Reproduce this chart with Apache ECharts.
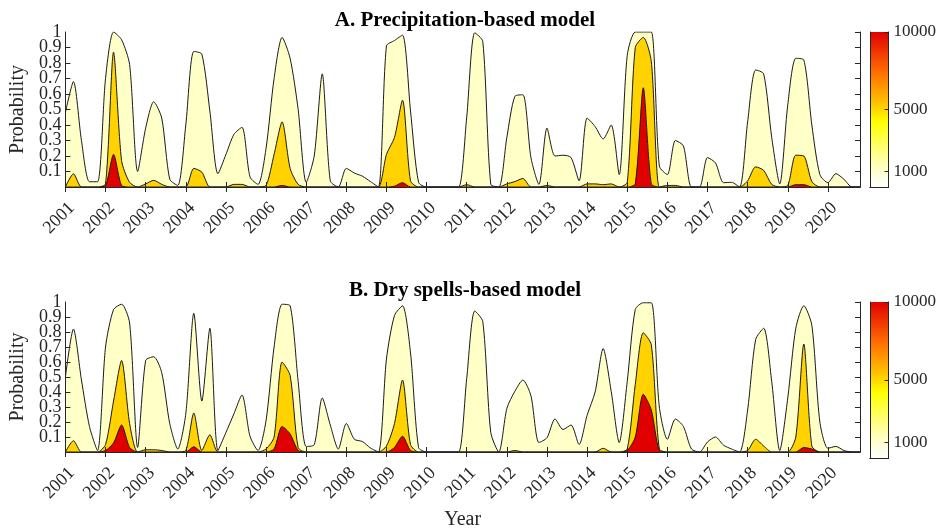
<!DOCTYPE html>
<html>
<head>
<meta charset="utf-8">
<script src="https://cdn.jsdelivr.net/npm/echarts@6/dist/echarts.min.js"></script>
<style>
  html, body { margin: 0; padding: 0; background: #fff; }
  #main { width: 939px; height: 531px; }
</style>
</head>
<body>
<div id="main"></div>
<script>
    // x steps: 5 points per year, 2001.0 .. 2020.8
    var years = [2001, 2002, 2003, 2004, 2005, 2006, 2007, 2008, 2009, 2010,
                 2011, 2012, 2013, 2014, 2015, 2016, 2017, 2018, 2019, 2020];
    var yearSteps = ['0', '2', '4', '6', '8'];
    var categories = [];
    years.forEach(function (y) {
        yearSteps.forEach(function (s) { categories.push(y + '.' + s); });
    });

    // A. precipitation-based model, probability of loss above 1000 / 5000 / 10000
    var precipLow = [
        0.48, 0.68, 0.30, 0.034, 0.034, 0.70, 1.00, 0.95, 0.79, 0.10,
        0.38, 0.55, 0.445, 0.05, 0.01, 0.40, 0.875, 0.857, 0.49, 0.086,
        0.21, 0.34, 0.385, 0.065, 0.017, 0.25, 0.70, 0.965, 0.83, 0.50,
        0.03, 0.20, 0.73, 0.04, 0, 0.12, 0.09, 0.07, 0.035, 0,
        0.91, 0.945, 0.98, 0.49, 0.03, 0, 0, 0, 0, 0,
        0.45, 0.995, 0.94, 0.017, 0, 0.32, 0.585, 0.595, 0.19, 0.017,
        0.38, 0.20, 0.205, 0.19, 0.04, 0.445, 0.39, 0.31, 0.40, 0.08,
        0.85, 1.00, 1.00, 1.00, 0.135, 0.08, 0.30, 0.265, 0, 0,
        0.19, 0.155, 0.028, 0.03, 0, 0.42, 0.755, 0.73, 0.32, 0.02,
        0.53, 0.83, 0.82, 0.40, 0.08, 0.028, 0.086, 0.05, 0, 0
    ];
    var precipMid = [
        0, 0.085, 0, 0, 0, 0.02, 0.87, 0.17, 0.03, 0,
        0.02, 0.043, 0.017, 0, 0, 0, 0.12, 0.096, 0, 0,
        0, 0.017, 0.017, 0, 0, 0.01, 0.21, 0.42, 0.12, 0.017,
        0, 0, 0, 0, 0, 0, 0, 0, 0, 0,
        0.21, 0.32, 0.56, 0.04, 0, 0, 0, 0, 0, 0,
        0.015, 0, 0, 0, 0, 0.02, 0.035, 0.055, 0, 0,
        0.01, 0, 0, 0, 0, 0.02, 0.02, 0.015, 0.02, 0,
        0.03, 0.90, 0.965, 0.81, 0, 0.01, 0.01, 0, 0, 0,
        0, 0, 0, 0, 0, 0.04, 0.13, 0.107, 0.017, 0,
        0.01, 0.205, 0.20, 0.035, 0, 0, 0, 0, 0, 0
    ];
    var precipHigh = [
        0, 0, 0, 0, 0, 0.01, 0.21, 0.01, 0, 0,
        0, 0, 0, 0, 0, 0, 0, 0, 0, 0,
        0, 0, 0, 0, 0, 0, 0, 0.01, 0, 0,
        0, 0, 0, 0, 0, 0, 0, 0, 0, 0,
        0, 0.005, 0.028, 0, 0, 0, 0, 0, 0, 0,
        0, 0, 0, 0, 0, 0, 0, 0, 0, 0,
        0, 0, 0, 0, 0, 0, 0, 0, 0, 0,
        0, 0.02, 0.64, 0.02, 0, 0, 0, 0, 0, 0,
        0, 0, 0, 0, 0, 0, 0, 0, 0, 0,
        0, 0.015, 0.015, 0, 0, 0, 0, 0, 0, 0
    ];

    // B. dry spells-based model
    var dryLow = [
        0.50, 0.82, 0.48, 0.17, 0.01, 0.70, 0.95, 0.985, 0.86, 0.03,
        0.61, 0.635, 0.53, 0.19, 0.02, 0.255, 0.925, 0.34, 0.825, 0.01,
        0.13, 0.255, 0.38, 0.105, 0.01, 0.21, 0.70, 0.985, 0.975, 0.47,
        0.037, 0.048, 0.36, 0.18, 0.02, 0.19, 0.085, 0.07, 0.027, 0,
        0.62, 0.91, 0.975, 0.66, 0.03, 0, 0, 0, 0, 0,
        0.49, 0.94, 0.87, 0.13, 0, 0.29, 0.405, 0.48, 0.375, 0.063,
        0.095, 0.22, 0.15, 0.18, 0.05, 0.245, 0.40, 0.69, 0.405, 0.063,
        0.47, 0.95, 0.995, 0.995, 0.30, 0.085, 0.22, 0.17, 0.02, 0,
        0.067, 0.10, 0.045, 0.02, 0, 0.28, 0.75, 0.825, 0.47, 0.01,
        0.36, 0.825, 0.975, 0.845, 0.20, 0.025, 0.037, 0.01, 0, 0
    ];
    var dryMid = [
        0, 0.075, 0, 0, 0, 0.05, 0.34, 0.61, 0.19, 0,
        0.015, 0.015, 0.01, 0, 0, 0.01, 0.26, 0.01, 0.115, 0,
        0, 0, 0, 0, 0, 0.02, 0.10, 0.60, 0.51, 0.03,
        0, 0, 0, 0, 0, 0, 0, 0, 0, 0,
        0.04, 0.19, 0.48, 0.05, 0, 0, 0, 0, 0, 0,
        0, 0, 0, 0, 0, 0, 0.01, 0, 0, 0,
        0, 0, 0, 0, 0, 0, 0, 0.025, 0, 0,
        0.02, 0.45, 0.795, 0.715, 0.02, 0, 0, 0, 0, 0,
        0, 0, 0, 0, 0, 0.01, 0.085, 0.04, 0, 0,
        0, 0.10, 0.72, 0.04, 0, 0, 0, 0, 0, 0
    ];
    var dryHigh = [
        0, 0, 0, 0, 0, 0.01, 0.06, 0.18, 0.03, 0,
        0, 0, 0, 0, 0, 0, 0.035, 0, 0, 0,
        0, 0, 0, 0, 0, 0, 0.02, 0.17, 0.12, 0.01,
        0, 0, 0, 0, 0, 0, 0, 0, 0, 0,
        0, 0.03, 0.105, 0.01, 0, 0, 0, 0, 0, 0,
        0, 0, 0, 0, 0, 0, 0, 0, 0, 0,
        0, 0, 0, 0, 0, 0, 0, 0, 0, 0,
        0.01, 0.10, 0.385, 0.28, 0.01, 0, 0, 0, 0, 0,
        0, 0, 0, 0, 0, 0, 0, 0, 0, 0,
        0, 0, 0.03, 0.02, 0, 0, 0, 0, 0, 0
    ];

    var colorbarTicks = [1000, 5000, 10000];
    var colorbarMax = 10000;

    var FONT = 'Liberation Serif';
    var INK = '#262626';
    var myChart = echarts.init(document.getElementById('main'));

    function plotX(grid, top, name) {
        return {
            gridIndex: grid,
            type: 'category',
            data: categories,
            boundaryGap: false,
            position: top ? 'top' : 'bottom',
            z: 10,
            name: name || '',
            nameLocation: 'middle',
            nameGap: 58,
            nameTextStyle: {fontFamily: FONT, fontSize: 20, color: INK},
            axisLine: {lineStyle: {color: INK, width: 1}},
            axisTick: {inside: true, length: 5, interval: 4, lineStyle: {color: INK}},
            axisLabel: {
                show: !top,
                interval: 4,
                rotate: 45,
                margin: 12,
                align: 'right',
                verticalAlign: 'top',
                fontFamily: FONT,
                fontSize: 18,
                color: INK,
                formatter: function (v) { return v.slice(0, 4); }
            },
            splitLine: {show: false}
        };
    }
    function plotY(grid, right) {
        return {
            gridIndex: grid,
            type: 'value',
            min: 0,
            max: 1,
            interval: 0.1,
            position: right ? 'right' : 'left',
            z: 10,
            name: right ? '' : 'Probability',
            nameLocation: 'middle',
            nameGap: 37,
            nameTextStyle: {fontFamily: FONT, fontSize: 20, color: INK},
            axisLine: {show: true, lineStyle: {color: INK, width: 1}},
            axisTick: {show: true, inside: true, length: 5, lineStyle: {color: INK}},
            axisLabel: {
                show: !right,
                showMaxLabel: false,
                margin: 4,
                fontFamily: FONT,
                fontSize: 18,
                color: INK,
                formatter: function (v) { return v === 0 ? '' : String(+(+v).toFixed(1)); }
            },
            splitLine: {show: false}
        };
    }
    // carries only the "1" label at the top of the probability axis
    function plotYTop(grid) {
        return {
            gridIndex: grid, type: 'value', min: 0, max: 1, interval: 1, position: 'left',
            axisLine: {show: false}, axisTick: {show: false}, splitLine: {show: false},
            axisLabel: {
                margin: 4, fontFamily: FONT, fontSize: 18, color: INK,
                formatter: function (v) { return v === 1 ? '1' : ''; }
            }
        };
    }
    function cbX(grid, top) {
        return {
            gridIndex: grid, type: 'category', data: ['cb'], position: top ? 'top' : 'bottom', z: 10,
            axisLine: {lineStyle: {color: INK, width: 1}},
            axisTick: {show: false}, axisLabel: {show: false}, splitLine: {show: false}
        };
    }
    function cbY(grid, right) {
        return {
            gridIndex: grid, type: 'value', min: 0, max: colorbarMax, position: right ? 'right' : 'left', z: 10,
            axisLine: {show: true, lineStyle: {color: INK, width: 1}},
            axisTick: {show: right, inside: true, length: 4, customValues: colorbarTicks, lineStyle: {color: INK}},
            axisLabel: {
                show: right, customValues: colorbarTicks, margin: 5,
                fontFamily: FONT, fontSize: 17, color: INK,
                formatter: function (v) { return String(v); }
            },
            splitLine: {show: false}
        };
    }
    function layer(data, color, axis) {
        return {
            type: 'line',
            data: data,
            xAxisIndex: axis,
            yAxisIndex: axis,
            smooth: 0.25,
            showSymbol: false,
            symbol: 'none',
            silent: true,
            clip: true,
            lineStyle: {color: '#1a1a1a', width: 1},
            areaStyle: {color: color, opacity: 1}
        };
    }
    var colorbarFill = new echarts.graphic.LinearGradient(0, 1, 0, 0, [
        {offset: 0, color: '#ffffff'},
        {offset: 0.12, color: '#ffffc8'},
        {offset: 0.42, color: '#ffff00'},
        {offset: 0.55, color: '#ffc000'},
        {offset: 0.75, color: '#ff6a00'},
        {offset: 1, color: '#e00000'}
    ]);
    function colorbar(axis) {
        return {
            type: 'bar', data: [colorbarMax], xAxisIndex: axis, yAxisIndex: axis,
            barWidth: '100%', silent: true, itemStyle: {color: colorbarFill}
        };
    }

    var LOW = '#ffffc8', MID = '#ffd200', HIGH = '#e00000';

    var option = {
        backgroundColor: '#fff',
        animation: false,
        title: [
            {text: 'A. Precipitation-based model', left: 460, top: 5, textAlign: 'center',
             textStyle: {fontFamily: FONT, fontWeight: 'bold', fontSize: 21, color: '#000'}},
            {text: 'B. Dry spells-based model', left: 460, top: 275, textAlign: 'center',
             textStyle: {fontFamily: FONT, fontWeight: 'bold', fontSize: 21, color: '#000'}}
        ],
        grid: [
            {left: 61, top: 32, width: 799, height: 155},
            {left: 61, top: 302, width: 799, height: 156},
            {left: 870, top: 32, width: 20, height: 155},
            {left: 870, top: 302, width: 20, height: 156}
        ],
        xAxis: [
            plotX(0, false), plotX(0, true),
            plotX(1, false, 'Year'), plotX(1, true),
            cbX(2, false), cbX(2, true),
            cbX(3, false), cbX(3, true)
        ],
        yAxis: [
            plotY(0, false), plotY(0, true),
            plotY(1, false), plotY(1, true),
            cbY(2, false), cbY(2, true),
            cbY(3, false), cbY(3, true),
            plotYTop(0), plotYTop(1)
        ],
        series: [
            layer(precipLow, LOW, 0),
            layer(precipMid, MID, 0),
            layer(precipHigh, HIGH, 0),
            layer(dryLow, LOW, 2),
            layer(dryMid, MID, 2),
            layer(dryHigh, HIGH, 2),
            colorbar(4),
            colorbar(6)
        ]
    };

    myChart.setOption(option);
</script>
</body>
</html>
